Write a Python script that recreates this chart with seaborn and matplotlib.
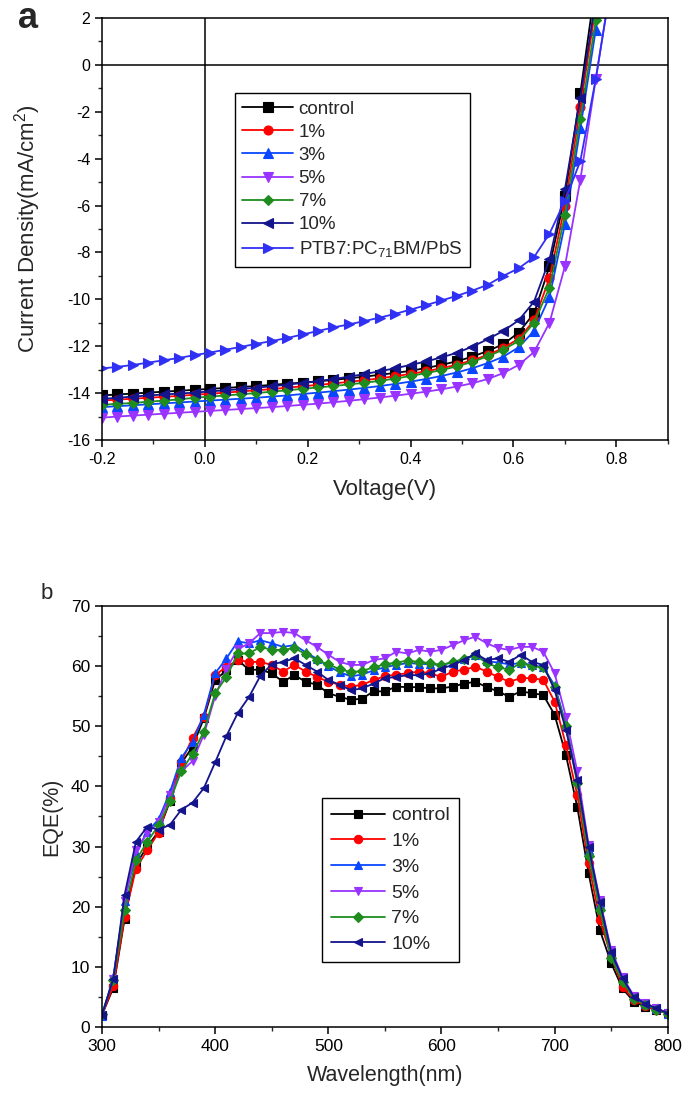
import matplotlib
matplotlib.use("Agg")
import matplotlib.pyplot as plt
from matplotlib.ticker import MultipleLocator, FormatStrFormatter
import seaborn as sns

sns.set_theme(style="ticks")
plt.rcParams['font.family'] = ['Liberation Sans', 'DejaVu Sans']
plt.rcParams['mathtext.fontset'] = 'custom'
plt.rcParams['mathtext.rm'] = 'Liberation Sans'
plt.rcParams['mathtext.it'] = 'Liberation Sans:italic'
plt.rcParams['axes.unicode_minus'] = False

# ---- (a) J-V data ----
voltage = [-0.20, -0.17, -0.14, -0.11, -0.08, -0.05, -0.02, 0.01, 0.04, 0.07,
           0.10, 0.13, 0.16, 0.19, 0.22, 0.25, 0.28, 0.31, 0.34, 0.37,
           0.40, 0.43, 0.46, 0.49, 0.52, 0.55, 0.58, 0.61, 0.64, 0.67,
           0.70, 0.73, 0.76, 0.79]

j_control = [-14.10, -14.06, -14.02, -13.98, -13.94, -13.90, -13.86, -13.82, -13.78, -13.74,
             -13.70, -13.65, -13.60, -13.55, -13.50, -13.44, -13.37, -13.30, -13.22, -13.14,
             -13.05, -12.93, -12.80, -12.64, -12.45, -12.20, -11.92, -11.42, -10.60, -8.60,
             -5.60, -1.20, 3.50, 8.00]
j_1 = [-14.32, -14.28, -14.24, -14.20, -14.16, -14.12, -14.07, -14.03, -13.98, -13.93,
       -13.88, -13.83, -13.77, -13.71, -13.65, -13.59, -13.52, -13.45, -13.37, -13.28,
       -13.18, -13.07, -12.94, -12.79, -12.60, -12.37, -12.08, -11.68, -10.90, -9.10,
       -6.00, -1.80, 2.50, 7.00]
j_3 = [-14.60, -14.56, -14.52, -14.48, -14.44, -14.40, -14.36, -14.32, -14.28, -14.24,
       -14.20, -14.15, -14.10, -14.04, -13.98, -13.92, -13.85, -13.78, -13.70, -13.61,
       -13.51, -13.40, -13.27, -13.12, -12.94, -12.72, -12.45, -12.05, -11.35, -9.90,
       -6.80, -2.70, 1.50, 6.00]
j_5 = [-15.05, -15.00, -14.96, -14.92, -14.88, -14.84, -14.80, -14.76, -14.72, -14.68,
       -14.64, -14.60, -14.55, -14.50, -14.45, -14.39, -14.33, -14.26, -14.19, -14.11,
       -14.03, -13.94, -13.84, -13.72, -13.58, -13.40, -13.15, -12.80, -12.25, -11.00,
       -8.60, -4.90, -0.60, 3.50]
j_7 = [-14.50, -14.46, -14.42, -14.37, -14.32, -14.27, -14.20, -14.15, -14.10, -14.05,
       -14.00, -13.94, -13.88, -13.82, -13.76, -13.70, -13.63, -13.56, -13.48, -13.38,
       -13.27, -13.15, -13.02, -12.86, -12.67, -12.43, -12.15, -11.78, -11.00, -9.50,
       -6.40, -2.30, 1.90, 6.00]
j_10 = [-14.25, -14.20, -14.15, -14.10, -14.06, -14.02, -13.98, -13.93, -13.88, -13.83,
        -13.77, -13.71, -13.64, -13.57, -13.49, -13.40, -13.30, -13.19, -13.07, -12.94,
        -12.80, -12.65, -12.48, -12.28, -12.02, -11.70, -11.35, -10.90, -10.10, -8.30,
        -5.30, -1.40, 2.80, 7.00]
j_ptb7 = [-12.95, -12.88, -12.80, -12.70, -12.60, -12.50, -12.38, -12.27, -12.15, -12.03,
          -11.90, -11.78, -11.65, -11.50, -11.35, -11.20, -11.07, -10.93, -10.78, -10.62,
          -10.44, -10.25, -10.05, -9.85, -9.63, -9.38, -9.00, -8.68, -8.20, -7.20,
          -5.80, -4.10, -0.60, 3.50]

# ---- (b) EQE data ----
wavelength = [300, 310, 320, 330, 340, 350, 360, 370, 380, 390,
              400, 410, 420, 430, 440, 450, 460, 470, 480, 490,
              500, 510, 520, 530, 540, 550, 560, 570, 580, 590,
              600, 610, 620, 630, 640, 650, 660, 670, 680, 690,
              700, 710, 720, 730, 740, 750, 760, 770, 780, 790, 800]

eqe_control = [2.0, 6.5, 18.0, 27.0, 30.0, 32.5, 37.5, 43.8, 46.6, 51.3,
               57.7, 59.3, 61.0, 59.4, 59.4, 58.8, 57.4, 58.5, 57.4, 56.9,
               55.5, 54.9, 54.4, 54.6, 55.8, 55.8, 56.6, 56.5, 56.5, 56.3,
               56.3, 56.6, 57.1, 57.4, 56.5, 55.8, 54.9, 55.8, 55.5, 55.2,
               51.9, 45.2, 36.6, 25.6, 16.1, 10.6, 6.4, 4.2, 3.4, 2.8, 2.3]
eqe_1 = [2.0, 6.8, 18.3, 26.3, 29.4, 32.3, 38.0, 44.1, 48.0, 51.6,
         58.5, 59.9, 61.0, 60.7, 60.7, 60.2, 59.1, 60.2, 59.1, 58.2,
         57.4, 56.9, 56.6, 56.9, 57.7, 58.3, 58.6, 58.8, 59.1, 58.8,
         58.2, 59.1, 59.4, 59.9, 59.1, 58.2, 57.4, 58.0, 58.0, 57.7,
         54.1, 46.9, 38.6, 27.2, 17.8, 11.7, 6.7, 4.5, 3.5, 2.8, 2.2]
eqe_3 = [1.8, 8.3, 21.0, 29.0, 32.5, 34.5, 39.0, 44.7, 47.4, 51.9,
         58.8, 61.3, 64.1, 63.8, 64.3, 63.8, 63.2, 63.5, 62.3, 61.2,
         60.0, 59.0, 58.3, 58.6, 59.3, 59.8, 60.2, 60.5, 60.4, 60.3,
         60.2, 60.6, 61.2, 61.8, 60.8, 60.6, 60.3, 60.5, 60.2, 59.8,
         56.8, 50.3, 41.0, 29.5, 20.5, 12.3, 8.0, 5.0, 3.8, 3.0, 2.2]
eqe_5 = [2.0, 8.0, 21.0, 29.5, 32.2, 34.0, 38.5, 42.5, 44.2, 48.6,
         55.0, 59.6, 62.8, 63.8, 65.5, 65.5, 65.7, 65.5, 64.3, 63.2,
         61.9, 60.7, 60.2, 60.2, 61.0, 61.3, 62.4, 62.1, 62.7, 62.4,
         62.7, 63.5, 64.3, 64.9, 63.8, 63.0, 62.7, 63.2, 63.2, 62.4,
         58.8, 51.6, 42.5, 30.3, 21.1, 12.8, 8.3, 5.2, 4.0, 3.1, 2.3]
eqe_7 = [2.2, 7.8, 19.5, 27.7, 30.8, 33.5, 37.5, 42.5, 45.4, 49.1,
         55.5, 58.2, 62.1, 62.1, 63.2, 62.7, 62.7, 63.0, 62.0, 61.0,
         60.3, 59.5, 59.0, 59.2, 59.8, 60.3, 60.6, 60.9, 60.7, 60.5,
         60.2, 60.7, 61.2, 61.8, 60.5, 59.8, 59.4, 60.5, 60.0, 59.8,
         56.5, 50.0, 40.5, 28.5, 19.5, 11.5, 7.5, 4.7, 3.7, 2.9, 2.2]
eqe_10 = [2.0, 8.0, 22.0, 30.8, 33.3, 32.8, 33.6, 36.1, 37.3, 39.7,
          44.0, 48.4, 52.2, 54.9, 58.4, 60.3, 60.7, 61.3, 60.2, 59.1,
          57.7, 56.9, 56.0, 56.3, 57.1, 58.0, 58.2, 58.5, 58.5, 58.8,
          59.6, 60.2, 61.0, 62.1, 61.0, 61.3, 60.7, 61.9, 60.7, 60.2,
          56.0, 49.4, 41.1, 30.0, 20.8, 12.5, 8.1, 5.0, 3.9, 3.1, 2.3]

labels = ['control', '1%', '3%', '5%', '7%', '10%']
colors = ['#000000', '#FF0000', '#0A46FF', '#9933FF', '#1E8C1E', '#14148C']
markers = ['s', 'o', '^', 'v', 'D', '<']

fig = plt.figure(figsize=(6.9, 10.98), dpi=100)
ax1 = fig.add_axes([0.1478, 0.5993, 0.820, 0.3843])
ax2 = fig.add_axes([0.1478, 0.0647, 0.820, 0.3834])

# panel a
jv_series = [j_control, j_1, j_3, j_5, j_7, j_10]
for lab, col, mk, j in zip(labels, colors, markers, jv_series):
    sns.lineplot(x=voltage, y=j, ax=ax1, color=col, marker=mk,
                 markersize=5.5 if mk == 'D' else 6.5, markeredgecolor=col,
                 markeredgewidth=0.8, linewidth=1.3, label=lab)
sns.lineplot(x=voltage, y=j_ptb7, ax=ax1, color='#3030F5', marker='>',
             markersize=7, markeredgecolor='#3030F5', markeredgewidth=0.8,
             linewidth=1.3, label='PTB7:PC$_{71}$BM/PbS')

ax1.axhline(0, color='black', linewidth=1.1, zorder=0)
ax1.axvline(0, color='black', linewidth=1.1, zorder=0)
ax1.set_xlim(-0.2, 0.9)
ax1.set_ylim(-16, 2)
ax1.xaxis.set_major_locator(MultipleLocator(0.2))
ax1.xaxis.set_minor_locator(MultipleLocator(0.1))
ax1.xaxis.set_major_formatter(FormatStrFormatter('%.1f'))
ax1.yaxis.set_major_locator(MultipleLocator(2))
ax1.yaxis.set_minor_locator(MultipleLocator(1))
ax1.set_xlabel('Voltage(V)', fontsize=16, labelpad=9)
ax1.set_ylabel('Current Density(mA/cm$^2$)', fontsize=16, labelpad=17)
ax1.legend(loc='upper left', bbox_to_anchor=(0.235, 0.822), borderaxespad=0,
           fontsize=13.5, frameon=True, fancybox=False, edgecolor='black',
           framealpha=1, handlelength=2.7, handletextpad=0.3,
           labelspacing=0.32, borderpad=0.4)
ax1.text(-0.13, 1.0, 'a', transform=ax1.transAxes, fontsize=26,
         fontweight='bold', ha='center', va='center')

# panel b
eqe_series = [eqe_control, eqe_1, eqe_3, eqe_5, eqe_7, eqe_10]
for lab, col, mk, e in zip(labels, colors, markers, eqe_series):
    sns.lineplot(x=wavelength, y=e, ax=ax2, color=col, marker=mk,
                 markersize=5 if mk == 'D' else 6, markeredgecolor=col,
                 markeredgewidth=0.8, linewidth=1.3, label=lab)

ax2.set_xlim(300, 800)
ax2.set_ylim(0, 70)
ax2.xaxis.set_major_locator(MultipleLocator(100))
ax2.xaxis.set_minor_locator(MultipleLocator(50))
ax2.yaxis.set_major_locator(MultipleLocator(10))
ax2.yaxis.set_minor_locator(MultipleLocator(5))
ax2.set_xlabel('Wavelength(nm)', fontsize=15.5, labelpad=8)
ax2.set_ylabel('EQE(%)', fontsize=15.5, labelpad=6)
ax2.legend(loc='upper left', bbox_to_anchor=(0.389, 0.544), borderaxespad=0,
           fontsize=14, frameon=True, fancybox=False, edgecolor='black',
           framealpha=1, handlelength=2.8, handletextpad=0.3,
           labelspacing=0.42, borderpad=0.45)
ax2.text(-0.097, 1.03, 'b', transform=ax2.transAxes, fontsize=16,
         ha='center', va='center')

for ax, lsize in [(ax1, 11.5), (ax2, 12.5)]:
    for side in ['top', 'right', 'left', 'bottom']:
        ax.spines[side].set_visible(True)
        ax.spines[side].set_linewidth(1.1)
        ax.spines[side].set_color('black')
    ax.tick_params(which='major', direction='out', length=5, width=1.1,
                   labelsize=lsize, top=False, right=False, colors='black')
    ax.tick_params(which='minor', direction='out', length=3, width=1.0,
                   top=False, right=False)
    ax.grid(False)

fig.savefig('out.png', dpi=100)
